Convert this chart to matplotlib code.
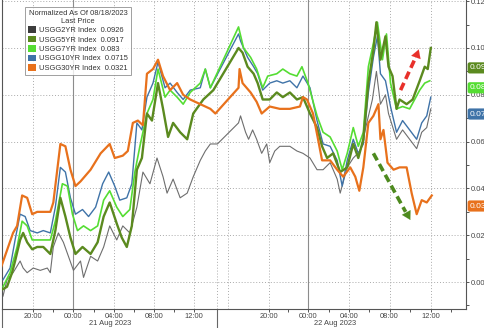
import matplotlib
matplotlib.use("Agg")
import matplotlib.pyplot as plt
from matplotlib.patches import Rectangle
from matplotlib.lines import Line2D
import matplotlib.transforms as mtransforms

plt.rcParams["font.family"] = ["Liberation Sans", "DejaVu Sans"]

# x = trading hours since 20:00 on 20 Aug (Bloomberg compresses the 12:00-20:00 gap)
t_2y = [-3.0, -2.6, -2.0, -1.3, -1.0, -0.6, 0.0, 0.7, 1.4, 1.7, 2.0, 2.5, 3.0, 3.5, 4.0, 4.7, 5.0,
        5.7, 6.4, 7.0, 7.6, 8.3, 8.9, 9.6, 10.3, 10.9, 11.6, 12.3, 12.9, 13.3, 13.9, 14.6, 15.3,
        15.9, 16.6, 17.1, 17.6, 18.3, 20.4, 20.6, 21.1, 21.4, 21.8, 22.2, 22.7, 23.2, 23.5, 24.0,
        24.5, 25.5, 26.2, 26.8, 27.5, 28.2, 28.8, 29.5, 30.2, 30.5, 31.2, 31.8, 32.5, 33.2, 33.7,
        34.1, 34.5, 35.0, 35.3, 36.1, 36.7, 37.4, 38.1, 38.6, 39.1, 39.5]
y_2y = [-0.006, 0.001, 0.004, 0.009, 0.006, 0.004, 0.006, 0.005, 0.006, 0.004, 0.015, 0.021, 0.017,
        0.011, 0.005, 0.009, 0.002, 0.011, 0.009, 0.015, 0.024, 0.018, 0.024, 0.021, 0.032, 0.047,
        0.042, 0.053, 0.045, 0.038, 0.044, 0.036, 0.038, 0.045, 0.052, 0.056, 0.059, 0.059, 0.068,
        0.071, 0.064, 0.061, 0.065, 0.061, 0.055, 0.059, 0.051, 0.056, 0.058, 0.058, 0.056, 0.055,
        0.053, 0.048, 0.048, 0.051, 0.044, 0.038, 0.049, 0.053, 0.056, 0.069, 0.078, 0.090, 0.076,
        0.080, 0.072, 0.061, 0.065, 0.061, 0.057, 0.064, 0.066, 0.074]

t_10y = [-3.0, -2.3, -1.8, -1.3, -0.8, -0.3, 0.4, 1.0, 1.7, 2.2, 2.7, 3.2, 3.7, 4.2, 4.9, 5.5, 6.2,
         6.9, 7.5, 8.1, 8.6, 9.3, 9.8, 10.3, 10.8, 11.3, 11.9, 12.4, 13.1, 13.6, 14.3, 14.9, 15.6,
         16.6, 17.1, 17.6, 20.4, 20.6, 21.3, 21.9, 22.3, 22.8, 23.5, 24.2, 24.8, 25.5, 26.2, 26.8,
         27.5, 28.2, 28.8, 29.5, 30.2, 30.7, 31.2, 31.8, 32.3, 32.8, 33.3, 33.8, 34.2, 34.5, 35.0,
         35.5, 36.1, 36.7, 37.4, 38.1, 38.6, 39.1, 39.5]
y_10y = [0.001, 0.006, 0.018, 0.029, 0.028, 0.022, 0.021, 0.022, 0.021, 0.032, 0.049, 0.047, 0.036,
         0.029, 0.031, 0.028, 0.032, 0.042, 0.047, 0.041, 0.035, 0.036, 0.042, 0.068, 0.065, 0.079,
         0.085, 0.094, 0.083, 0.085, 0.081, 0.078, 0.082, 0.083, 0.091, 0.083, 0.106, 0.103, 0.096,
         0.092, 0.089, 0.082, 0.085, 0.086, 0.085, 0.086, 0.083, 0.088, 0.083, 0.069, 0.059, 0.058,
         0.052, 0.041, 0.052, 0.061, 0.055, 0.059, 0.081, 0.096, 0.105, 0.089, 0.086, 0.075, 0.064,
         0.069, 0.065, 0.061, 0.068, 0.071, 0.079]

t_7y = [-3.0, -2.3, -1.6, -1.1, -0.6, -0.1, 0.7, 1.7, 2.2, 2.9, 3.4, 3.9, 4.4, 5.0, 5.7, 6.4, 7.0,
        7.6, 8.3, 8.9, 9.6, 10.1, 10.6, 11.3, 11.9, 12.4, 13.1, 13.6, 14.3, 14.9, 15.6, 16.6, 17.1,
        17.6, 20.4, 20.9, 21.6, 22.2, 22.8, 23.3, 24.2, 24.8, 25.5, 26.2, 26.7, 27.3, 28.2, 28.8,
        29.5, 30.2, 30.7, 31.2, 31.8, 32.3, 32.8, 33.3, 33.8, 34.2, 34.7, 35.1, 35.5, 36.1, 36.7,
        37.4, 37.9, 38.4, 38.9, 39.4]
y_7y = [-0.002, 0.004, 0.015, 0.026, 0.024, 0.018, 0.018, 0.018, 0.026, 0.042, 0.041, 0.029, 0.022,
        0.024, 0.022, 0.024, 0.035, 0.039, 0.032, 0.028, 0.031, 0.047, 0.058, 0.072, 0.078, 0.091,
        0.079, 0.082, 0.079, 0.076, 0.081, 0.085, 0.091, 0.083, 0.109, 0.100, 0.096, 0.091, 0.083,
        0.088, 0.089, 0.091, 0.089, 0.088, 0.092, 0.085, 0.071, 0.064, 0.062, 0.056, 0.048, 0.055,
        0.066, 0.058, 0.064, 0.092, 0.102, 0.111, 0.095, 0.106, 0.085, 0.074, 0.075, 0.074, 0.078,
        0.082, 0.085, 0.086]

t_5y = [-3.0, -2.6, -2.1, -1.8, -1.3, -1.0, -0.6, -0.1, 0.4, 1.0, 1.7, 2.2, 2.7, 3.2, 3.7, 4.2, 4.9,
        5.7, 6.4, 7.0, 7.6, 8.3, 8.8, 9.3, 9.8, 10.3, 10.8, 11.3, 11.8, 12.4, 12.9, 13.4, 13.9, 14.6,
        15.3, 15.9, 16.9, 17.9, 20.4, 20.8, 21.3, 21.9, 22.3, 22.8, 23.5, 24.2, 24.8, 25.5, 26.2,
        26.8, 27.5, 28.2, 28.7, 29.2, 29.8, 30.5, 31.2, 31.8, 32.3, 32.8, 33.3, 33.8, 34.1, 34.5,
        35.0, 35.3, 35.7, 36.1, 36.4, 37.1, 37.7, 38.4, 38.9, 39.2, 39.5]
y_5y = [-0.003, -0.002, 0.004, 0.009, 0.018, 0.021, 0.017, 0.014, 0.015, 0.015, 0.012, 0.022, 0.036,
        0.028, 0.019, 0.012, 0.015, 0.012, 0.017, 0.028, 0.034, 0.025, 0.019, 0.015, 0.024, 0.048,
        0.053, 0.072, 0.069, 0.085, 0.074, 0.062, 0.068, 0.064, 0.061, 0.072, 0.078, 0.082, 0.100,
        0.098, 0.092, 0.089, 0.085, 0.078, 0.078, 0.081, 0.079, 0.081, 0.078, 0.079, 0.072, 0.066,
        0.058, 0.053, 0.055, 0.047, 0.049, 0.059, 0.053, 0.061, 0.085, 0.099, 0.111, 0.095, 0.105,
        0.092, 0.088, 0.074, 0.078, 0.076, 0.078, 0.086, 0.092, 0.091, 0.100]

t_30y = [-3.3, -2.0, -1.6, -1.1, -0.6, -0.1, 0.4, 1.7, 2.0, 2.7, 3.2, 3.7, 4.2, 4.7, 5.7, 6.7, 7.6,
         8.1, 8.9, 9.4, 9.9, 10.4, 10.9, 11.3, 11.9, 12.4, 12.9, 13.6, 14.3, 14.9, 15.6, 16.6, 17.6,
         18.1, 20.4, 20.5, 20.8, 21.6, 22.2, 22.7, 23.5, 24.5, 25.5, 26.5, 26.8, 27.2, 27.8, 28.3,
         28.7, 29.5, 30.2, 30.8, 31.5, 32.0, 32.4, 32.8, 33.3, 33.8, 34.3, 34.5, 34.8, 35.2, 35.8,
         36.4, 37.1, 37.6, 38.1, 38.6, 39.1, 39.6]
y_30y = [0.005, 0.021, 0.024, 0.037, 0.036, 0.029, 0.030, 0.030, 0.034, 0.059, 0.058, 0.048, 0.041,
         0.043, 0.048, 0.055, 0.059, 0.053, 0.054, 0.056, 0.068, 0.069, 0.067, 0.089, 0.091, 0.095,
         0.088, 0.082, 0.085, 0.080, 0.078, 0.076, 0.074, 0.072, 0.083, 0.091, 0.085, 0.081, 0.077,
         0.072, 0.075, 0.074, 0.074, 0.075, 0.079, 0.078, 0.072, 0.061, 0.052, 0.052, 0.048, 0.045,
         0.049, 0.045, 0.039, 0.049, 0.068, 0.071, 0.076, 0.061, 0.065, 0.051, 0.048, 0.049, 0.049,
         0.038, 0.029, 0.035, 0.034, 0.037]

legend_names = ["USGG2YR Index", "USGG5YR Index", "USGG7YR Index", "USGG10YR Index", "USGG30YR Index"]
legend_values = ["0.0926", "0.0917", "0.083", "0.0715", "0.0321"]
tag_values = [0.0915, 0.083, 0.0718, 0.0325]
tag_labels = ["0.09", "0.08", "0.07", "0.03"]

tick_pos = [0.0, 4.0, 8.0, 12.0, 16.0, 23.4, 27.3, 31.4, 35.4, 39.5]
tick_labels = ["20:00", "00:00", "04:00", "08:00", "12:00",
               "20:00", "00:00", "04:00", "08:00", "12:00"]
midnights = [4.0, 27.3]
separator = 18.3
grid_16h = 19.4

C2, C5, C7, C10, C30 = "#3c3c3c", "#5b8a1f", "#55dd33", "#3f73a8", "#e8711c"
TXT = "#444444"

fig = plt.figure(figsize=(4.85, 3.28), dpi=100)
ax = fig.add_axes([2 / 485, 19 / 328, 464 / 485, 309 / 328])
ax.set_xlim(-3.1, 43.0)
ax.set_ylim(-0.0115, 0.1205)

# grid
for yv in [0.0, 0.02, 0.04, 0.06, 0.08, 0.10, 0.12]:
    ax.axhline(yv, color="#aaaaaa", lw=0.7, ls=(0, (1, 2)), zorder=0)
for xv in tick_pos + [separator, grid_16h]:
    if xv in midnights:
        continue
    ax.axvline(xv, color="#aaaaaa", lw=0.7, ls=(0, (1, 2)), zorder=0)
for xv in midnights:
    ax.axvline(xv, color="#8c8c8c", lw=0.8, zorder=0)

ax.plot(t_2y, y_2y, color="#6e6e6e", lw=0.8, zorder=2)
ax.plot(t_10y, y_10y, color=C10, lw=1.0, zorder=3)
ax.plot(t_7y, y_7y, color=C7, lw=1.2, zorder=3)
ax.plot(t_5y, y_5y, color=C5, lw=1.7, zorder=4)
ax.plot(t_30y, y_30y, color=C30, lw=1.6, zorder=5)

# spines / ticks
ax.spines["top"].set_visible(False)
for s in ["left", "bottom", "right"]:
    ax.spines[s].set_color("#555555")
    ax.spines[s].set_linewidth(0.8)
ax.yaxis.tick_right()
ax.set_yticks([0.0, 0.02, 0.04, 0.06, 0.08, 0.10, 0.12])
ax.set_yticklabels(["0.00", "0.02", "0.04", "0.06", "0.08", "0.10", "0.12"])
ax.set_yticks([-0.01, 0.01, 0.03, 0.05, 0.07, 0.09, 0.11], minor=True)
ax.tick_params(axis="y", which="both", direction="out", length=2.5, width=0.7,
               colors="#555555", labelsize=5.4, labelcolor=TXT, pad=0.8)
ax.set_xticks(tick_pos)
ax.set_xticklabels(tick_labels)
ax.set_xticks([2, 6, 10, 14, 25.35, 29.35, 33.4, 37.45, 41.5], minor=True)
ax.tick_params(axis="x", which="both", direction="out", length=2, width=0.7,
               colors="#555555", labelsize=5.4, labelcolor=TXT, pad=0.8)

# lines below the axis: left edge and day separator
trans = mtransforms.blended_transform_factory(ax.transData, ax.transAxes)
for xv in [-3.1, separator]:
    ax.add_line(Line2D([xv, xv], [0, -0.07], transform=trans, color="#666666",
                       lw=0.8, clip_on=False))
ax.text(7.6, -0.0455, "21 Aug 2023", transform=trans, ha="center", va="center",
        fontsize=5.4, color=TXT)
ax.text(30.0, -0.0455, "22 Aug 2023", transform=trans, ha="center", va="center",
        fontsize=5.4, color=TXT)

# legend
handles = [Rectangle((0, 0), 1, 1, facecolor=c, edgecolor="none")
           for c in [C2, C5, C7, C10, C30]]
labels = [f"{n}  {v}" for n, v in zip(legend_names, legend_values)]
leg = ax.legend(handles, labels, title="Normalized As Of 08/18/2023\nLast Price",
                loc="upper left", bbox_to_anchor=(0.05, 0.978), fontsize=5.4,
                title_fontsize=5.4, frameon=True, fancybox=False, handlelength=1.0,
                handleheight=1.0, handletextpad=0.4, labelspacing=0.2,
                borderpad=0.4, borderaxespad=0)
leg.get_frame().set_edgecolor("#888888")
leg.get_frame().set_linewidth(0.7)
leg.get_title().set_color("#333333")
leg.get_title().set_multialignment("center")
leg.get_title().set_linespacing(1.2)
for txt in leg.get_texts():
    txt.set_color("#333333")

# last-value tags on the right
ttrans = mtransforms.blended_transform_factory(ax.transAxes, ax.transData)
for v, lab, c in zip(tag_values, tag_labels, [C5, C7, C10, C30]):
    ax.text(1.008, v, lab, transform=ttrans, ha="left", va="center", fontsize=6,
            color="white", clip_on=False,
            bbox=dict(boxstyle="round,pad=0.25", facecolor=c, edgecolor="none"))

# hand-drawn style dashed arrows
ax.plot([36.5, 38.0], [0.082, 0.096], color="#e8302a", lw=2.6, ls=(0, (2.2, 1.2)),
        solid_capstyle="butt", zorder=6)
ax.annotate("", xy=(38.4, 0.1005), xytext=(37.9, 0.0945),
            arrowprops=dict(arrowstyle="-|>,head_length=0.6,head_width=0.35",
                            color="#e8302a", lw=0.1), zorder=6)
ax.plot([33.8, 37.0], [0.055, 0.030], color="#4d8a1e", lw=2.6, ls=(0, (2.2, 1.2)),
        solid_capstyle="butt", zorder=6)
ax.annotate("", xy=(37.6, 0.0255), xytext=(36.9, 0.031),
            arrowprops=dict(arrowstyle="-|>,head_length=0.6,head_width=0.35",
                            color="#4d8a1e", lw=0.1), zorder=6)

fig.savefig("out.png", dpi=100)
